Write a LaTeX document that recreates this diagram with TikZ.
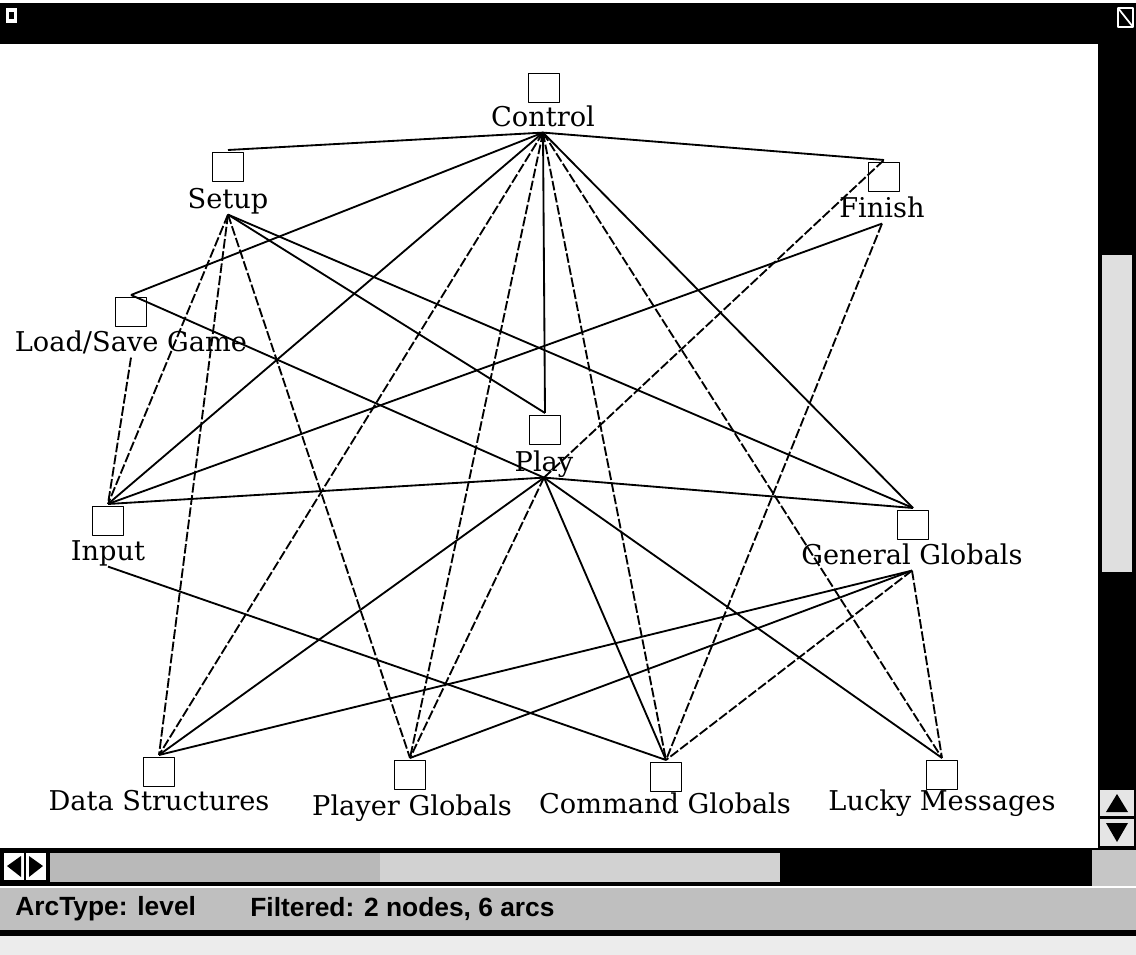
\documentclass[tikz,border=0pt]{standalone}
\usepackage{fontspec}
\setmainfont{DejaVu Serif}
\newfontfamily\statusfont{Liberation Sans}

\tikzset{
  modbox/.style={draw, line width=1pt, minimum width=0.62cm, minimum height=0.58cm, inner sep=0pt, outer sep=0.05cm},
  modlabel/.style={inner xsep=0pt, inner ysep=0.04cm, text height=0.72em, text depth=0.22em, font=\fontsize{15.5}{18}\selectfont},
  arc/.style={line width=1.05pt},
  brokenarc/.style={arc, dash pattern=on 5.5pt off 1.5pt},
  statustext/.style={anchor=west, inner sep=0pt, font=\statusfont\bfseries\fontsize{15}{17}\selectfont},
}

\begin{document}
\begin{tikzpicture}[x=0.02cm, y=-0.02cm, line join=round]
    \useasboundingbox (0,0) rectangle (1136,955);

    % Window frame (title bar, canvas, scroll bars, status line)
    \fill[white] (0,0) rectangle (1136,955);
    \fill[black] (0,3) rectangle (1136,44);
    \fill[white] (6,8) rectangle (17,23); \fill[black] (9,12) rectangle (14,19);
    \draw[white, line width=1pt] (1118,8) rectangle (1133,27) (1118,8) -- (1133,27);
    \fill[black] (1098,44) rectangle (1136,848);
    \fill[gray!25] (1102,255) rectangle (1132,572);
    \fill[gray!20] (1100,790) rectangle (1134,816); \fill[black] (1117,794) -- (1106,812) -- (1128,812) -- cycle;
    \fill[gray!20] (1100,819) rectangle (1134,846); \fill[black] (1106,823) -- (1128,823) -- (1117,842) -- cycle;
    \fill[black] (0,848) rectangle (1136,886);
    \fill[white] (4,853) rectangle (24,880); \fill[black] (7,866) -- (21,856) -- (21,877) -- cycle;
    \fill[white] (26,853) rectangle (46,880); \fill[black] (43,866) -- (29,856) -- (29,877) -- cycle;
    \fill[gray!55] (50,853) rectangle (380,882);
    \fill[gray!35] (380,853) rectangle (780,882);
    \fill[gray!45] (1092,850) rectangle (1136,886);
    \fill[gray!50] (0,888) rectangle (1136,930);
    \fill[black] (0,930) rectangle (1136,936);
    \fill[gray!15] (0,936) rectangle (1136,955);
    \node[statustext] (arctype) at (15,909) {ArcType: level};
    \node[statustext] (filtered) at (250,909) {Filtered: 2 nodes, 6 arcs};

    % Modules: box, name below it
    \node[modbox] (ctl) at (544,88) {};   \node[modlabel] (ctl-l) at (543,122) {Control};
    \node[modbox] (setup) at (228,167) {}; \node[modlabel] (setup-l) at (228,204) {Setup};
    \node[modbox] (fin) at (884,177) {};  \node[modlabel] (fin-l) at (882,213) {Finish};
    \node[modbox] (ls) at (131,312) {};   \node[modlabel] (ls-l) at (131,347) {Load/Save Game};
    \node[modbox] (play) at (545,430) {}; \node[modlabel] (play-l) at (544,467) {Play};
    \node[modbox] (inp) at (108,521) {};  \node[modlabel] (inp-l) at (108,556) {Input};
    \node[modbox] (gg) at (913,525) {};   \node[modlabel] (gg-l) at (912,560) {General Globals};
    % bottom row
    \node[modbox] (ds) at (159,772) {};   \node[modlabel] (ds-l) at (159,806) {Data Structures};
    \node[modbox] (pg) at (410,775) {};   \node[modlabel] (pg-l) at (412,811) {Player Globals};
    \node[modbox] (cg) at (666,777) {};   \node[modlabel] (cg-l) at (665,809) {Command Globals};
    \node[modbox] (lm) at (942,775) {};   \node[modlabel] (lm-l) at (942,806) {Lucky Messages};

    % Arcs out of Control
    \draw[arc] (ctl-l.south) -- (setup.north);
    \draw[arc] (ctl-l.south) -- (fin.north);
    \draw[arc] (ctl-l.south) -- (ls.north);
    \draw[arc] (ctl-l.south) -- (inp.north);
    \draw[arc] (ctl-l.south) -- (play.north);
    \draw[arc] (ctl-l.south) -- (gg.north);
    \draw[brokenarc] (ctl-l.south) -- (ds.north);
    \draw[brokenarc] (ctl-l.south) -- (pg.north);
    \draw[brokenarc] (ctl-l.south) -- (cg.north);
    \draw[brokenarc] (ctl-l.south) -- (lm.north);
    % Setup, Finish, Load/Save Game, Input
    \draw[arc] (setup-l.south) -- (play.north);
    \draw[arc] (setup-l.south) -- (gg.north);
    \draw[brokenarc] (setup-l.south) -- (inp.north);
    \draw[brokenarc] (setup-l.south) -- (ds.north);
    \draw[brokenarc] (setup-l.south) -- (pg.north);
    \draw[arc] (fin-l.south) -- (inp.north);
    \draw[brokenarc] (fin-l.south) -- (cg.north);
    \draw[brokenarc] (ls-l.south) -- (inp.north);
    \draw[arc] (inp-l.south) -- (cg.north);
    % Play
    \draw[arc] (play-l.south) -- (ls.north);
    \draw[brokenarc] (play-l.south) -- (fin.north);
    \draw[arc] (play-l.south) -- (inp.north);
    \draw[arc] (play-l.south) -- (gg.north);
    \draw[arc] (play-l.south) -- (ds.north);
    \draw[brokenarc] (play-l.south) -- (pg.north);
    \draw[arc] (play-l.south) -- (cg.north);
    \draw[arc] (play-l.south) -- (lm.north);
    % General Globals
    \draw[arc] (gg-l.south) -- (ds.north);
    \draw[arc] (gg-l.south) -- (pg.north);
    \draw[brokenarc] (gg-l.south) -- (cg.north);
    \draw[brokenarc] (gg-l.south) -- (lm.north);
\end{tikzpicture}
\end{document}
